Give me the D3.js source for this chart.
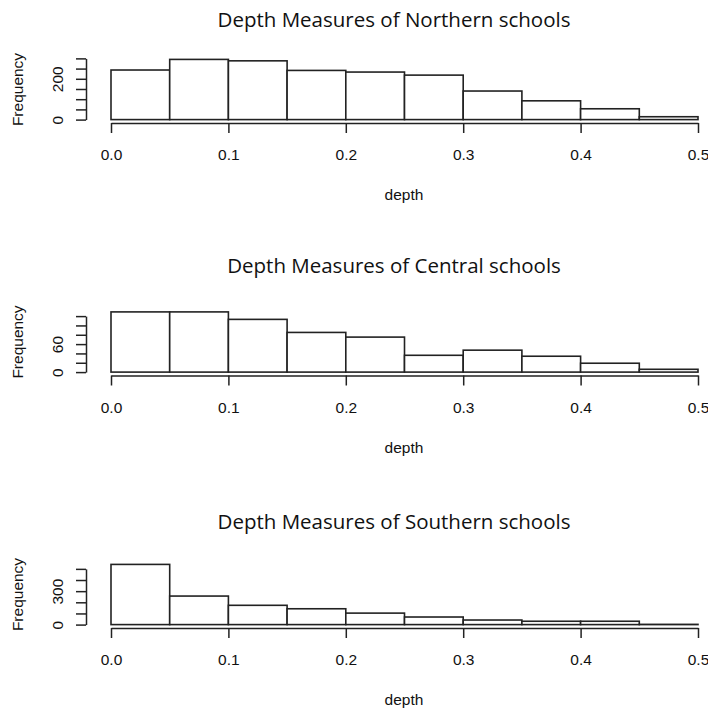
<!DOCTYPE html>
<html>
<head>
<meta charset="utf-8">
<script src="https://cdn.jsdelivr.net/npm/d3@7"></script>
<style>
  html, body { margin: 0; padding: 0; background: #fff; }
  svg { display: block; }
  .axis text { font-family: "Liberation Sans", Arial, sans-serif; font-size: 15.5px; fill: #111; }
  .axis path, .axis line { stroke: #222; stroke-width: 1.5px; }
</style>
</head>
<body>
<svg id="chart" width="708" height="711"></svg>
<script>
// Histogram bin edges (depth, width 0.05)
const binEdges = [0, 0.05, 0.1, 0.15, 0.2, 0.25, 0.3, 0.35, 0.4, 0.45, 0.5];

// Counts per bin for each region
const northernCounts = [243, 295, 288, 241, 233, 218, 140, 92, 53, 14];
const centralCounts  = [129, 129, 113, 85, 75, 36, 47, 34, 19, 6];
const southernCounts = [540, 256, 173, 142, 103, 68, 41, 30, 30, 2];

// Panel titles
const titles = [
  "Depth Measures of Northern schools",
  "Depth Measures of Central schools",
  "Depth Measures of Southern schools"
];

// Axis ticks
const xTicks = [0, 0.1, 0.2, 0.3, 0.4, 0.5];
const yTicksNorthern = [0, 50, 100, 150, 200, 250, 300];
const yTicksCentral  = [0, 20, 40, 60, 80, 100, 120];
const yTicksSouthern = [0, 100, 200, 300, 400, 500];
// Tick labels that fit without overlapping
const yLabelsNorthern = [0, 200];
const yLabelsCentral  = [0, 60];
const yLabelsSouthern = [0, 300];

const xLabel = "depth";
const yLabel = "Frequency";

const panels = [
  { title: titles[0], counts: northernCounts, yTicks: yTicksNorthern, yLabels: yLabelsNorthern },
  { title: titles[1], counts: centralCounts,  yTicks: yTicksCentral,  yLabels: yLabelsCentral },
  { title: titles[2], counts: southernCounts, yTicks: yTicksSouthern, yLabels: yLabelsSouthern }
];

const svg = d3.select("#chart");
const panelStep = 252.5;
const plotLeft = 111, plotRight = 698;
const regionHeight = 65;
const firstBottom = 122;
const yAxisX = 86;
// distance of each title baseline above its plot bottom
const titleOffsets = [95, 102, 98];

const x = d3.scaleLinear().domain([0, 0.5]).range([plotLeft, plotRight]);

panels.forEach((p, i) => {
  const bottom = firstBottom + i * panelStep;
  const g = svg.append("g");
  const m = d3.max(p.counts);
  // plot region padded 4% above and below the data range
  const y = d3.scaleLinear()
    .domain([-0.04 * m, 1.04 * m])
    .range([bottom, bottom - regionHeight]);

  const bins = p.counts.map((c, k) => ({ x0: binEdges[k], x1: binEdges[k + 1], count: c }));

  g.selectAll("rect.bar")
    .data(bins)
    .join("rect")
    .attr("class", "bar")
    .attr("x", d => x(d.x0))
    .attr("width", d => x(d.x1) - x(d.x0))
    .attr("y", d => y(d.count))
    .attr("height", d => Math.max(0, y(0) - y(d.count)))
    .attr("fill", "#fff")
    .attr("stroke", "#222")
    .attr("stroke-width", 1.6);

  // x axis
  const xAxis = d3.axisBottom(x)
    .tickValues(xTicks)
    .tickFormat(d3.format(".1f"))
    .tickSize(10)
    .tickSizeOuter(0)
    .tickPadding(16);
  g.append("g")
    .attr("class", "axis")
    .attr("transform", `translate(0,${bottom + 1})`)
    .call(xAxis);

  // y axis, line spans first to last tick
  const lastTick = p.yTicks[p.yTicks.length - 1];
  const yAxisScale = d3.scaleLinear().domain([0, lastTick]).range([y(0), y(lastTick)]);
  const yAxis = d3.axisLeft(yAxisScale)
    .tickValues(p.yTicks)
    .tickFormat(d => p.yLabels.includes(d) ? String(d) : "")
    .tickSize(10)
    .tickSizeOuter(0);
  g.append("g")
    .attr("class", "axis")
    .attr("transform", `translate(${yAxisX},0)`)
    .call(yAxis)
    .call(a => a.selectAll("text")
      .attr("transform", "rotate(-90)")
      .attr("x", 0)
      .attr("y", -23)
      .attr("dy", 0)
      .attr("text-anchor", "middle"));

  // axis titles
  g.append("text")
    .attr("x", 404)
    .attr("y", bottom + 78)
    .attr("text-anchor", "middle")
    .attr("font-family", "Liberation Sans, Arial, sans-serif")
    .attr("font-size", 15.5)
    .attr("fill", "#111")
    .text(xLabel);

  g.append("text")
    .attr("transform", `translate(23,${bottom - regionHeight / 2}) rotate(-90)`)
    .attr("text-anchor", "middle")
    .attr("font-family", "Liberation Sans, Arial, sans-serif")
    .attr("font-size", 15.5)
    .attr("fill", "#111")
    .text(yLabel);

  // panel title
  g.append("text")
    .attr("x", 394)
    .attr("y", bottom - titleOffsets[i])
    .attr("text-anchor", "middle")
    .attr("font-family", "Open Sans, sans-serif")
    .attr("font-size", 20.5)
    .attr("fill", "#111")
    .text(p.title);
});
</script>
</body>
</html>
